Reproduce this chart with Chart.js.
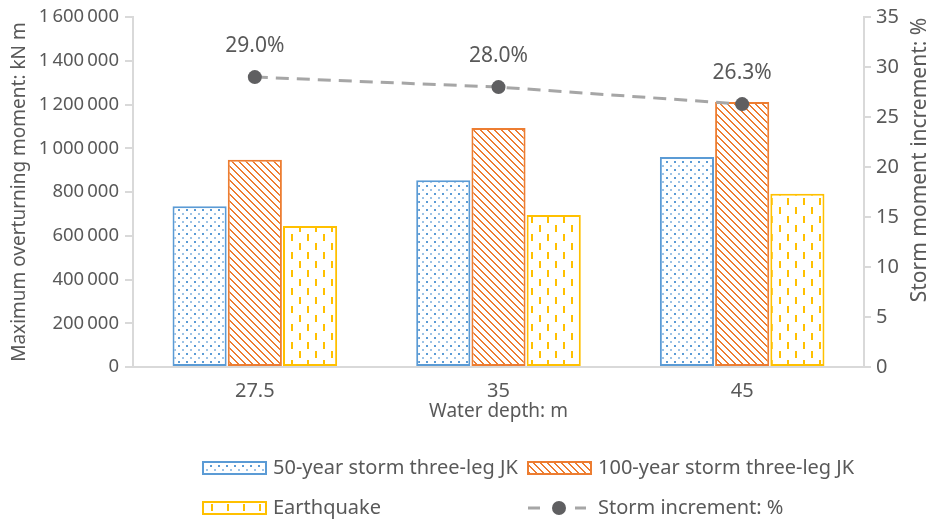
<!DOCTYPE html>
<html>
<head>
<meta charset="utf-8">
<script src="https://cdn.jsdelivr.net/npm/chart.js@4.4.1/dist/chart.umd.min.js"></script>
<style>
  html, body { margin: 0; padding: 0; background: #fff; }
  #wrap { width: 929px; height: 522px; }
</style>
</head>
<body>
<div id="wrap"><canvas id="c" width="929" height="522"></canvas></div>
<script>
// Water depths (m) and maximum overturning moments (kN m)
const depths = ['27.5', '35', '45'];
const storm50 = [735000, 854000, 960000];
const storm100 = [948000, 1093000, 1212000];
const quake = [645000, 695000, 792000];
// Storm moment increment (%)
const increment = [29.0, 28.0, 26.3];

const leftTicks = { min: 0, max: 1600000, step: 200000 };
const rightTicks = { min: 0, max: 35, step: 5 };

const TEXT = '#595959';
const AXIS = '#d9d9d9';
const FONT = "'Noto Sans', sans-serif";
const BLUE = '#5b9bd5', ORANGE = '#ed7d31', YELLOW = '#ffc000';

function makePattern(w, h, draw) {
  const cv = document.createElement('canvas');
  cv.width = w; cv.height = h;
  const g = cv.getContext('2d');
  g.fillStyle = '#ffffff';
  g.fillRect(0, 0, w, h);
  draw(g);
  return document.getElementById('c').getContext('2d').createPattern(cv, 'repeat');
}

// dotted fill
const dotFill = makePattern(8, 8, g => {
  g.fillStyle = BLUE;
  g.fillRect(2, 1, 2, 2);
  g.globalAlpha = 0.6;
  g.fillRect(6, 5, 2, 2);
});
// downward diagonal fill
const diagFill = makePattern(7, 7, g => {
  g.fillStyle = ORANGE;
  for (let i = 0; i < 7; i++) {
    g.fillRect(i, i, 2, 1);
  }
  g.fillRect(0, 6, 1, 1);
});
// staggered vertical dash fill
const dashFill = makePattern(16, 18, g => {
  g.fillStyle = YELLOW;
  g.fillRect(3, 0, 2, 7);
  g.fillRect(11, 9, 2, 7);
});

function fmtThousands(v) {
  return String(v).replace(/\B(?=(\d{3})+(?!\d))/g, '\u2009');
}

Chart.defaults.font.family = FONT;
Chart.defaults.font.size = 20;
Chart.defaults.color = TEXT;

// value labels above the increment points
const pointLabels = {
  id: 'pointLabels',
  afterDatasetsDraw(chart) {
    const ctx = chart.ctx;
    chart.data.datasets.forEach((ds, i) => {
      if (ds.type !== 'line') return;
      const meta = chart.getDatasetMeta(i);
      ctx.save();
      ctx.font = `21px ${FONT}`;
      ctx.fillStyle = TEXT;
      ctx.textAlign = 'center';
      ctx.textBaseline = 'middle';
      meta.data.forEach((pt, j) => {
        ctx.fillText(ds.data[j].toFixed(1) + '%', pt.x, pt.y - 31);
      });
      ctx.restore();
    });
  }
};

// right axis title, reading bottom to top
const rightTitle = {
  id: 'rightTitle',
  afterDraw(chart) {
    const ctx = chart.ctx;
    ctx.save();
    ctx.translate(chart.width - 9, 160);
    ctx.rotate(-Math.PI / 2);
    ctx.font = `21px ${FONT}`;
    ctx.fillStyle = TEXT;
    ctx.textAlign = 'center';
    ctx.textBaseline = 'middle';
    ctx.fillText('Storm moment increment: %', 0, 0);
    ctx.restore();
  }
};

// two-column legend below the x axis
const gridLegend = {
  id: 'gridLegend',
  afterDraw(chart) {
    const ctx = chart.ctx;
    const base = chart.chartArea.bottom;
    const rows = [base + 101, base + 141];
    const cols = [203, 528];
    const items = chart.data.datasets;
    ctx.save();
    ctx.font = `20px ${FONT}`;
    ctx.textBaseline = 'middle';
    ctx.textAlign = 'left';
    items.forEach((ds, n) => {
      const x = cols[n % 2];
      const y = rows[Math.floor(n / 2)];
      if (ds.type === 'line') {
        ctx.strokeStyle = ds.borderColor;
        ctx.lineWidth = 3;
        ctx.beginPath();
        ctx.moveTo(x, y); ctx.lineTo(x + 12, y);
        ctx.moveTo(x + 47, y); ctx.lineTo(x + 58, y);
        ctx.stroke();
        ctx.fillStyle = ds.pointBackgroundColor;
        ctx.beginPath();
        ctx.arc(x + 31, y, 7, 0, Math.PI * 2);
        ctx.fill();
      } else {
        ctx.fillStyle = ds.backgroundColor;
        ctx.fillRect(x, y - 6, 63, 12);
        ctx.strokeStyle = ds.borderColor;
        ctx.lineWidth = 2;
        ctx.strokeRect(x, y - 6, 63, 12);
      }
      ctx.fillStyle = TEXT;
      ctx.fillText(ds.label, x + 70, y);
    });
    ctx.restore();
  }
};

const axisGrid = (len) => ({
  drawOnChartArea: false,
  drawTicks: true,
  tickLength: len,
  color: AXIS,
  lineWidth: 2
});

new Chart(document.getElementById('c'), {
  data: {
    labels: depths,
    datasets: [
      {
        type: 'bar', label: '50-year storm three-leg JK', data: storm50,
        backgroundColor: dotFill, borderColor: BLUE, borderWidth: 2,
        borderSkipped: false, yAxisID: 'y', order: 1
      },
      {
        type: 'bar', label: '100-year storm three-leg JK', data: storm100,
        backgroundColor: diagFill, borderColor: ORANGE, borderWidth: 2,
        borderSkipped: false, yAxisID: 'y', order: 1
      },
      {
        type: 'bar', label: 'Earthquake', data: quake,
        backgroundColor: dashFill, borderColor: YELLOW, borderWidth: 2,
        borderSkipped: false, yAxisID: 'y', order: 1
      },
      {
        type: 'line', label: 'Storm increment: %', data: increment,
        borderColor: '#a6a6a6', borderWidth: 3, borderDash: [13, 8],
        pointRadius: 7, pointBackgroundColor: '#5f5f61', pointBorderWidth: 0,
        pointHoverRadius: 7, fill: false, tension: 0, yAxisID: 'y1', order: 0
      }
    ]
  },
  options: {
    responsive: false,
    animation: false,
    devicePixelRatio: 1,
    layout: { padding: { top: 16, bottom: 95, left: 0, right: 0 } },
    datasets: { bar: { categoryPercentage: 0.68, barPercentage: 0.98 } },
    plugins: { legend: { display: false }, tooltip: { enabled: false } },
    scales: {
      x: {
        grid: { display: false },
        border: { display: true, color: AXIS, width: 2 },
        ticks: { padding: 4, color: TEXT, font: { size: 20 } },
        title: { display: true, text: 'Water depth: m', color: TEXT, font: { size: 19 }, padding: { top: 0, bottom: 4 } },
        afterFit(s) { s.height = 60; }
      },
      y: {
        position: 'left',
        min: leftTicks.min, max: leftTicks.max,
        grid: axisGrid(8),
        border: { display: true, color: AXIS, width: 2 },
        ticks: { stepSize: leftTicks.step, padding: 6, color: TEXT, font: { size: 18.5 },
                 callback: v => fmtThousands(v) },
        title: { display: true, text: 'Maximum overturning moment: kN m', color: TEXT,
                 font: { size: 19 }, padding: { top: 8, bottom: 0 } },
        afterFit(s) { s.width = 133; }
      },
      y1: {
        position: 'right',
        min: rightTicks.min, max: rightTicks.max,
        grid: axisGrid(7),
        border: { display: true, color: AXIS, width: 2 },
        ticks: { stepSize: rightTicks.step, padding: 5, color: TEXT, font: { size: 20 } },
        afterFit(s) { s.width = 65; }
      }
    }
  },
  plugins: [pointLabels, rightTitle, gridLegend]
});
</script>
</body>
</html>
